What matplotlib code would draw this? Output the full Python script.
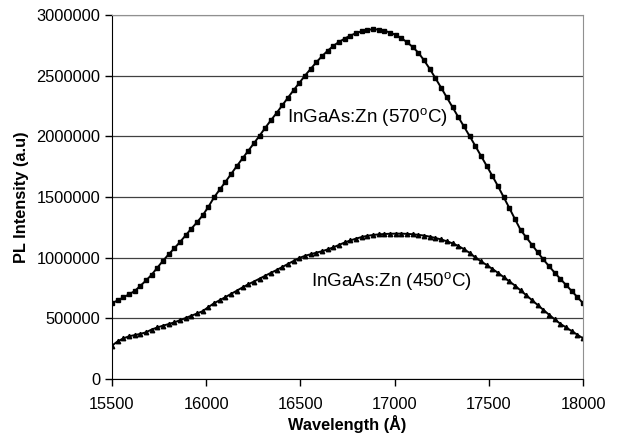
import numpy as np
import matplotlib
matplotlib.use("Agg")
import matplotlib.pyplot as plt
from matplotlib.ticker import FuncFormatter

plt.rcParams["font.family"] = ["Liberation Sans", "DejaVu Sans"]
plt.rcParams["mathtext.fontset"] = "custom"
plt.rcParams["mathtext.rm"] = "Liberation Sans"

# wavelength grid of the scan (84 points, 15500-18000 A)
wavelength = np.linspace(15500, 18000, 84)

# PL intensity, sample grown at 570 C (a.u.)
pl_570 = [624, 648, 672, 698, 725, 768, 812, 860, 918, 975,
          1028, 1078, 1130, 1185, 1240, 1292, 1350, 1420, 1498, 1562,
          1625, 1690, 1755, 1818, 1880, 1942, 2005, 2070, 2132, 2192,
          2255, 2318, 2380, 2440, 2500, 2555, 2610, 2660, 2705, 2745,
          2778, 2805, 2830, 2850, 2866, 2877, 2882, 2880, 2870, 2855,
          2835, 2808, 2775, 2735, 2688, 2625, 2555, 2478, 2400, 2320,
          2240, 2160, 2082, 2003, 1922, 1840, 1758, 1675, 1590, 1500,
          1410, 1318, 1228, 1167, 1106, 1045, 985, 930, 876, 825,
          775, 725, 675, 624]

# PL intensity, sample grown at 450 C (a.u.)
pl_450 = [275, 310, 335, 352, 362, 372, 385, 408, 425, 440,
          453, 467, 485, 503, 522, 540, 560, 593, 625, 650,
          675, 702, 728, 755, 780, 803, 827, 851, 875, 898,
          923, 948, 973, 997, 1015, 1028, 1041, 1053, 1068, 1085,
          1105, 1125, 1142, 1157, 1170, 1180, 1187, 1192, 1195, 1197,
          1198, 1198, 1196, 1193, 1188, 1182, 1173, 1162, 1150, 1135,
          1118, 1097, 1070, 1040, 1003, 970, 940, 908, 875, 840,
          805, 770, 730, 690, 650, 610, 570, 530, 492, 455,
          425, 395, 365, 335]

pl_570 = np.array(pl_570) * 1000
pl_450 = np.array(pl_450) * 1000

fig = plt.figure(figsize=(6.17, 4.36), dpi=100)
ax = fig.add_axes([0.1815, 0.1307, 0.7635, 0.835])

ax.plot(wavelength, pl_570, color="black", lw=1.4, marker="s", ms=2.6)
ax.plot(wavelength, pl_450, color="black", lw=1.4, marker="^", ms=3.2)

ax.set_xlim(15500, 18000)
ax.set_ylim(0, 3000000)
ax.set_xticks(np.arange(15500, 18001, 500))
ax.set_yticks(np.arange(0, 3000001, 500000))
ax.yaxis.set_major_formatter(FuncFormatter(lambda v, p: "%d" % v))
ax.xaxis.set_major_formatter(FuncFormatter(lambda v, p: "%d" % v))
ax.yaxis.grid(True, color="#404040", lw=0.9)
ax.set_axisbelow(True)

for side in ["top", "right"]:
    ax.spines[side].set_color("#909090")
for side in ["left", "bottom"]:
    ax.spines[side].set_color("black")
ax.tick_params(direction="out", length=5, labelsize=11.8, width=1)
ax.tick_params(axis="x", pad=8)

ax.set_xlabel("Wavelength (Å)", fontsize=11.8, fontweight="bold", labelpad=2)
ax.set_ylabel("PL Intensity (a.u)", fontsize=11.8, fontweight="bold", labelpad=5)

ax.text(16853, 2150000, "InGaAs:Zn (570$^{\\mathrm{o}}$C)", fontsize=13.5,
        ha="center", va="center")
ax.text(16986, 800000, "InGaAs:Zn (450$^{\\mathrm{o}}$C)", fontsize=13.5,
        ha="center", va="center")

fig.savefig("out.png", dpi=100)
